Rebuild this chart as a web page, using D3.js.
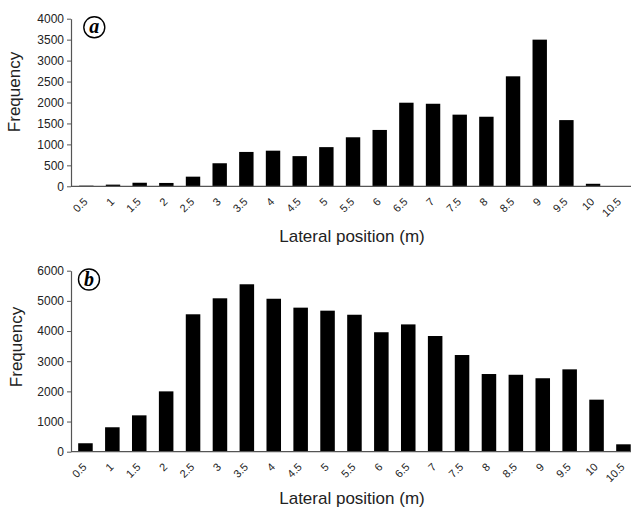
<!DOCTYPE html>
<html>
<head>
<meta charset="utf-8">
<script src="https://cdn.jsdelivr.net/npm/d3@7/dist/d3.min.js"></script>
<style>
  body { margin: 0; background: #fff; }
  svg { display: block; }
</style>
</head>
<body>
<div id="vis"></div>
<script>
// lateral position bins (m)
const positions = ['0.5', '1', '1.5', '2', '2.5', '3', '3.5', '4', '4.5', '5', '5.5',
  '6', '6.5', '7', '7.5', '8', '8.5', '9', '9.5', '10', '10.5']

// panel a frequencies
const freqA = [15, 40, 85, 80, 230, 550, 820, 850, 720, 935, 1170,
  1345, 1995, 1970, 1710, 1660, 2625, 3500, 1580, 60, 0]

// panel b frequencies
const freqB = [280, 810, 1205, 2000, 4555, 5085, 5550, 5070, 4775, 4675, 4540,
  3960, 4220, 3835, 3205, 2575, 2550, 2435, 2730, 1725, 245]

const ticksA = [0, 500, 1000, 1500, 2000, 2500, 3000, 3500, 4000]
const ticksB = [0, 1000, 2000, 3000, 4000, 5000, 6000]

const W = 631, H = 509

const svg = d3.select('#vis')
  .append('svg')
  .attr('width', W)
  .attr('height', H)

function drawPanel(cfg) {
  let g = svg.append('g')

  let x = d3.scaleBand()
    .domain(positions)
    .range([cfg.x0, cfg.x0 + cfg.step * positions.length])
    .paddingInner(0.46)
    .paddingOuter(0.23)

  let y = d3.scaleLinear()
    .domain([0, cfg.max])
    .range([cfg.y0, cfg.y1])

  // bars
  g.selectAll('rect.bar')
    .data(cfg.values)
    .enter()
    .append('rect')
    .attr('class', 'bar')
    .attr('x', (d, i) => x(positions[i]))
    .attr('width', x.bandwidth())
    .attr('y', d => y(d))
    .attr('height', d => cfg.y0 - y(d))
    .attr('fill', '#000')

  // y axis
  let ya = g.append('g')
    .attr('transform', 'translate(' + cfg.axisX + ',0)')
    .call(d3.axisLeft(y).tickValues(cfg.ticks).tickFormat(d3.format('d'))
      .tickSize(4).tickSizeOuter(0).tickPadding(3))
  ya.select('.domain').attr('stroke', '#555').attr('stroke-width', 1.2)
  ya.selectAll('.tick line').attr('stroke', '#555')
  ya.selectAll('.tick text')
    .style('font-family', 'Liberation Sans, Arial, sans-serif')
    .style('font-size', '12px')
    .attr('fill', '#222')

  // x axis
  let xa = g.append('g')
    .attr('transform', 'translate(0,' + cfg.y0 + ')')
    .call(d3.axisBottom(x).tickSize(0).tickSizeOuter(0))
  xa.select('.domain')
    .attr('d', 'M' + cfg.axisX + ',0H' + W)
    .attr('stroke', '#555')
    .attr('stroke-width', 1.2)
  xa.selectAll('.tick text')
    .attr('y', 0)
    .attr('dy', 0)
    .attr('text-anchor', 'end')
    .attr('transform', 'translate(2,16) rotate(-45)')
    .style('font-family', 'Liberation Sans, Arial, sans-serif')
    .style('font-size', '11px')
    .attr('fill', '#222')

  // axis titles
  g.append('text')
    .attr('transform', 'translate(' + cfg.ytx + ',' + cfg.yty + ') rotate(-90)')
    .attr('text-anchor', 'middle')
    .style('font-family', 'Liberation Sans, Arial, sans-serif')
    .style('font-size', '17px')
    .attr('fill', '#222')
    .text('Frequency')

  g.append('text')
    .attr('x', 352)
    .attr('y', cfg.y0 + cfg.titleGap)
    .attr('text-anchor', 'middle')
    .style('font-family', 'Liberation Sans, Arial, sans-serif')
    .style('font-size', '17px')
    .attr('fill', '#222')
    .text('Lateral position (m)')

  // panel label
  g.append('circle')
    .attr('cx', cfg.lx)
    .attr('cy', cfg.ly)
    .attr('r', 10.5)
    .attr('fill', '#fff')
    .attr('stroke', '#000')
    .attr('stroke-width', 1.4)

  g.append('text')
    .attr('x', cfg.lx)
    .attr('y', cfg.ly + 6)
    .attr('text-anchor', 'middle')
    .style('font-family', 'Liberation Serif, Times New Roman, serif')
    .style('font-size', '20px')
    .style('font-weight', 'bold')
    .style('font-style', 'italic')
    .text(cfg.label)
}

drawPanel({
  values: freqA, ticks: ticksA, max: 4000,
  x0: 73, step: 26.67, axisX: 71,
  y0: 186.3, y1: 18.7, titleGap: 55.5,
  ytx: 20, yty: 92,
  lx: 94.3, ly: 27.3, label: 'a'
})

drawPanel({
  values: freqB, ticks: ticksB, max: 6000,
  x0: 72, step: 26.9, axisX: 71,
  y0: 451.7, y1: 270.7, titleGap: 52,
  ytx: 22, yty: 347,
  lx: 89, ly: 279.5, label: 'b'
})
</script>
</body>
</html>
